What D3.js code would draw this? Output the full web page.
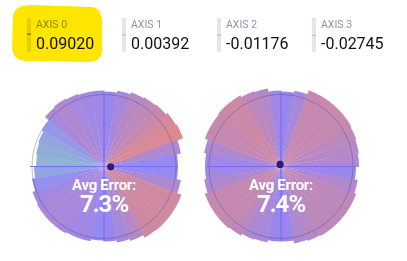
<!DOCTYPE html>
<html>
<head>
<meta charset="utf-8">
<script src="https://cdn.jsdelivr.net/npm/d3@7"></script>
<style>
  html, body { margin: 0; padding: 0; background: #fff; }
  svg { display: block; font-family: Roboto, "Noto Sans", sans-serif; }
</style>
</head>
<body>
<svg id="chart" width="407" height="261"></svg>
<script>
// valeurs
var axisLabels = ["AXIS 0", "AXIS 1", "AXIS 2", "AXIS 3"];
var axisValues = [0.09020, 0.00392, -0.01176, -0.02745];
var avgErrors = ["7.3%", "7.4%"];

// erreur par secteur (36 secteurs de 10 degres, sens horaire depuis le haut)
var errors0 = [7.38, 7.63, 7.88, 8.0, 8.13, 8.38, 8.5, 7.75, 7.25, 7.25,
               7.75, 8.31, 8.31, 8.31, 8.25, 7.88, 7.63, 7.38, 7.25, 7.5,
               7.5, 7.63, 7.63, 7.63, 7.5, 7.13, 6.75, 6.5, 6.63, 6.75,
               7.0, 7.63, 7.75, 7.63, 7.5, 7.5];
var errors1 = [7.38, 7.63, 8.13, 8.13, 8.13, 8.13, 8.0, 7.88, 7.75, 7.38,
               7.75, 8.0, 8.0, 8.0, 8.0, 7.88, 7.75, 7.38, 7.38, 7.63,
               7.75, 8.0, 8.13, 8.13, 8.13, 7.75, 7.5, 7.5, 7.75, 8.13,
               8.13, 8.25, 8.25, 8.0, 7.88, 7.5];

var svg = d3.select("#chart");

var R = 74;
var centres = [[104, 166.5], [281, 166.5]];
var errorSets = [errors0, errors1];

var angle = d3.scaleBand().domain(d3.range(36)).range([0, 2 * Math.PI]).paddingInner(0);
var rScale = d3.scaleLinear().domain([6, 8.5]).range([64, 84]);
var colour = d3.scaleLinear().domain([6.5, 7.3, 8.5])
    .range(["#8fb4d4", "#9587f5", "#da8a92"]).clamp(true);
var pos = d3.scaleLinear().domain([-1, 1]).range([-R, R]);

// petit recouvrement pour eviter les joints blancs
var arc = d3.arc()
    .innerRadius(0)
    .outerRadius(d => rScale(d.e))
    .startAngle(d => angle(d.i))
    .endAngle(d => angle(d.i) + angle.bandwidth() + 0.006);

for (var k = 0; k < 2; k++) {
    var g = svg.append("g").attr("transform", "translate(" + centres[k] + ")");
    var data = errorSets[k].map((e, i) => ({i: i, e: e}));

    g.selectAll("path.wedge").data(data).enter()
      .append("path")
      .attr("class", "wedge")
      .attr("d", arc)
      .attr("fill", d => colour(d.e));

    g.append("circle").attr("r", 72)
      .attr("fill", "none").attr("stroke", "rgba(70,60,110,0.35)").attr("stroke-width", 1);

    g.append("line").attr("x1", -R).attr("x2", R).attr("y1", 0).attr("y2", 0)
      .attr("stroke", "#7b6cf6").attr("stroke-width", 1.2);
    g.append("line").attr("y1", -R).attr("y2", R).attr("x1", 0).attr("x2", 0)
      .attr("stroke", "#7b6cf6").attr("stroke-width", 1.2);

    g.append("circle")
      .attr("cx", pos(axisValues[2 * k]))
      .attr("cy", pos(axisValues[2 * k + 1]))
      .attr("r", 3.6).attr("fill", "#2a1f72");

    g.append("text").attr("x", 0).attr("y", 23.5)
      .attr("text-anchor", "middle").attr("fill", "#fff")
      .attr("font-weight", "bold").attr("font-size", "15px")
      .attr("letter-spacing", "-0.3px")
      .text("Avg Error:");
    g.append("text").attr("x", 0).attr("y", 45.5)
      .attr("text-anchor", "middle").attr("fill", "#fff")
      .attr("font-weight", "bold").attr("font-size", "24px")
      .attr("letter-spacing", "-1px")
      .text(avgErrors[k]);
}

// en-tete des axes
var legend = svg.selectAll("g.axe").data(axisLabels).enter()
    .append("g").attr("class", "axe")
    .attr("transform", (d, i) => "translate(" + (27 + 95 * i) + ",0)");

legend.append("rect").attr("x", 0).attr("y", 18).attr("width", 4).attr("height", 34)
    .attr("fill", "#e3e6eb");
legend.append("rect").attr("x", 0).attr("y", (d, i) => 34.5 - axisValues[i] * 10)
    .attr("width", 4).attr("height", 1)
    .attr("fill", (d, i) => i == 0 ? "#555" : "#b3b9c3");
legend.append("text").attr("x", 9).attr("y", 28)
    .attr("font-size", "10.5px").attr("fill", "#8c95a7")
    .text(d => d);
legend.append("text").attr("x", 9).attr("y", 49)
    .attr("font-size", "16px").attr("fill", "#111")
    .text((d, i) => d3.format(".5f")(axisValues[i]).replace("\u2212", "-"));

// surlignage jaune
svg.append("path")
    .attr("d", "M13,18 C13,9 19,5 32,5 L92,7 C99,8 102,13 102,23 L102,50 C102,58 97,62 88,62 L28,61 C18,61 13,57 12,48 Z")
    .attr("fill", "#ffe600")
    .style("mix-blend-mode", "multiply");
</script>
</body>
</html>
